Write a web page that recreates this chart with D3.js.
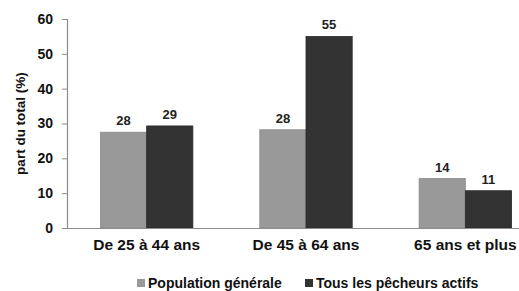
<!DOCTYPE html>
<html>
<head>
<meta charset="utf-8">
<script src="https://cdn.jsdelivr.net/npm/d3@7"></script>
<style>
  body { margin: 0; background: #fff; }
  svg text { font-family: "Liberation Sans", Arial, sans-serif; font-weight: bold; }
</style>
</head>
<body>
<div id="chart"></div>
<script>
// données
const categories = ['De 25 à 44 ans', 'De 45 à 64 ans', '65 ans et plus'];
const seriesNames = ['Population générale', 'Tous les pêcheurs actifs'];
const populationGenerale = [27.5, 28.2, 14.2];
const pecheursActifs = [29.3, 55, 10.7];
const valueLabels = [[28, 28, 14], [29, 55, 11]];
const yTicks = [0, 10, 20, 30, 40, 50, 60];
const colors = ['#999999', '#333333'];

const width = 519, height = 291;
const margin = { top: 19, left: 67 };
const plotBottom = 228;
const plotRight = 545; // le graphique d'origine est coupé à droite

const svg = d3.select('#chart').append('svg')
    .attr('width', width)
    .attr('height', height);

const x0 = d3.scaleBand()
    .domain(categories)
    .range([margin.left, plotRight])
    .paddingInner(0.42)
    .paddingOuter(0.21);

const x1 = d3.scaleBand()
    .domain(seriesNames)
    .range([0, x0.bandwidth()]);

const y = d3.scaleLinear()
    .domain([0, 60])
    .range([plotBottom, margin.top]);

// axe Y
const yAxis = svg.append('g')
    .attr('transform', `translate(${margin.left},0)`)
    .call(d3.axisLeft(y).tickValues(yTicks).tickSize(5).tickPadding(9));
yAxis.select('.domain').attr('stroke', '#8c8c8c').attr('stroke-width', 1.2);
yAxis.selectAll('.tick line').attr('stroke', '#8c8c8c');
yAxis.selectAll('.tick text')
    .attr('font-size', '14px')
    .attr('fill', '#111')
    .style('font-family', '"Liberation Sans", Arial, sans-serif')
    .style('font-weight', 'bold');

// titre de l'axe Y
svg.append('text')
    .attr('transform', `translate(25,${(margin.top + plotBottom) / 2}) rotate(-90)`)
    .attr('text-anchor', 'middle')
    .attr('font-size', '13.5px')
    .attr('fill', '#111')
    .text('part du total (%)');

// barres
const data = categories.map((c, i) => ({
    category: c,
    values: [populationGenerale[i], pecheursActifs[i]],
    labels: [valueLabels[0][i], valueLabels[1][i]]
}));

const groups = svg.append('g').selectAll('g')
    .data(data)
    .join('g')
    .attr('transform', d => `translate(${x0(d.category)},0)`);

groups.selectAll('rect')
    .data(d => d.values.map((v, j) => ({ name: seriesNames[j], value: v, j })))
    .join('rect')
    .attr('x', d => x1(d.name))
    .attr('y', d => y(d.value))
    .attr('width', x1.bandwidth())
    .attr('height', d => y(0) - y(d.value))
    .attr('fill', d => colors[d.j])
    .attr('stroke', d => d.j === 0 ? '#8a8a8a' : '#2a2a2a')
    .attr('stroke-width', 0.8);

groups.selectAll('text.val')
    .data(d => d.values.map((v, j) => ({ name: seriesNames[j], value: v, label: d.labels[j] })))
    .join('text')
    .attr('class', 'val')
    .attr('x', d => x1(d.name) + x1.bandwidth() / 2)
    .attr('y', d => y(d.value) - 7)
    .attr('text-anchor', 'middle')
    .attr('font-size', '13px')
    .attr('fill', '#222')
    .text(d => d.label);

// axe X
const xAxis = svg.append('g')
    .attr('transform', `translate(0,${plotBottom})`)
    .call(d3.axisBottom(x0).tickSize(0).tickPadding(11));
xAxis.select('.domain').attr('stroke', '#8c8c8c').attr('stroke-width', 1.2);
xAxis.selectAll('.tick text')
    .attr('font-size', '15.5px')
    .attr('fill', '#111')
    .style('font-family', '"Liberation Sans", Arial, sans-serif')
    .style('font-weight', 'bold');

// légende
const legendItems = [
    { name: seriesNames[0], color: colors[0], x: 137 },
    { name: seriesNames[1], color: colors[1], x: 305 }
];
const legend = svg.append('g').selectAll('g')
    .data(legendItems)
    .join('g')
    .attr('transform', d => `translate(${d.x},283)`);
legend.append('rect')
    .attr('x', 0).attr('y', -4)
    .attr('width', 8).attr('height', 8)
    .attr('fill', d => d.color);
legend.append('text')
    .attr('x', 11)
    .attr('y', 5)
    .attr('font-size', '14px')
    .attr('fill', '#111')
    .text(d => d.name);
</script>
</body>
</html>
